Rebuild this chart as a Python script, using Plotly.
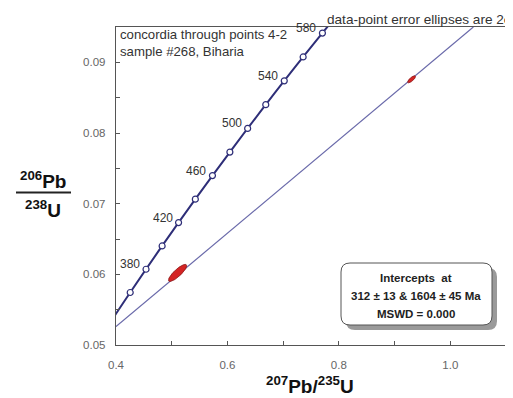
import numpy as np
import plotly.graph_objects as go

# ---- data ----
conc_ages = [360, 380, 400, 420, 440, 460, 480, 500, 520, 540, 560, 580]
conc_x = [0.4255, 0.4539, 0.4828, 0.5123, 0.5424, 0.5731, 0.6044, 0.6363, 0.6688, 0.7020, 0.7359, 0.7705]
conc_y = [0.05743, 0.06072, 0.06402, 0.06732, 0.07064, 0.07397, 0.07730, 0.08065, 0.08401, 0.08738, 0.09076, 0.09414]
conc_line_x = [0.3978, 0.4255, 0.4828, 0.5424, 0.6044, 0.6688, 0.7359, 0.7879]
conc_line_y = [0.05416, 0.05743, 0.06402, 0.07064, 0.07730, 0.08401, 0.09076, 0.09584]
label_ages = [380, 420, 460, 500, 540, 580]

disc_x = [0.40, 1.0414]
disc_y = [0.0526, 0.0950]

ell_cx = [0.5105, 0.9305]
ell_cy = [0.0602, 0.0876]
ell_sx = [0.0164, 0.0071]
ell_sy = [0.00121, 0.00050]
ell_rho = [0.84, 0.77]

x_ticks = [0.4, 0.6, 0.8, 1.0]
x_ticklabels = ["0.4", "0.6", "0.8", "1.0"]
y_ticks = [0.05, 0.06, 0.07, 0.08, 0.09]
y_ticklabels = ["0.05", "0.06", "0.07", "0.08", "0.09"]

box_lines = ["Intercepts  at", "312 ± 13 & 1604 ± 45 Ma", "MSWD = 0.000"]
title_lines = ["concordia through points 4-2", "sample #268, Biharia"]
note_text = "data-point error ellipses are 2σ"

# ---- geometry helpers ----
# the page body has an 8px margin, so figure pixel = window pixel - 8
OFF = 8
W, H = 513 - OFF, 398 - OFF
L, R, T, B = 116 - OFF, 506 - OFF, 27 - OFF, 345 - OFF
def px(x):
    return (x - OFF - L) / (R - L)
def py(y):
    return (B - (y - OFF)) / (B - T)

FONT = "Liberation Sans, Arial, sans-serif"
NAVY = "#2e2e78"

fig = go.Figure()

# discordia
fig.add_trace(go.Scatter(x=disc_x, y=disc_y, mode="lines",
                         line=dict(color="#6a6aaa", width=1.2), hoverinfo="skip"))

# error ellipses
t = np.linspace(0, 2 * np.pi, 100)
for cx, cy, sx, sy, r in zip(ell_cx, ell_cy, ell_sx, ell_sy, ell_rho):
    ex = cx + sx * np.cos(t)
    ey = cy + sy * (r * np.cos(t) + np.sqrt(1 - r * r) * np.sin(t))
    fig.add_trace(go.Scatter(x=ex, y=ey, mode="lines", fill="toself",
                             fillcolor="#d42424", line=dict(color="#8a1515", width=0.8),
                             hoverinfo="skip"))

# concordia
fig.add_trace(go.Scatter(x=conc_line_x, y=conc_line_y, mode="lines", line_shape="spline",
                         line=dict(color=NAVY, width=2), hoverinfo="skip"))
fig.add_trace(go.Scatter(x=conc_x, y=conc_y, mode="markers",
                         marker=dict(symbol="circle", size=6, color="white",
                                     line=dict(color=NAVY, width=1.2)),
                         cliponaxis=False, hoverinfo="skip"))

annotations = []
for a, xv, yv in zip(conc_ages, conc_x, conc_y):
    if a in label_ages:
        annotations.append(dict(x=xv, y=yv, text=str(a), showarrow=False,
                                xanchor="right", yanchor="middle", xshift=-4, yshift=5,
                                font=dict(family=FONT, size=12, color="#333")))

# titles in plot
for i, s in enumerate(title_lines):
    annotations.append(dict(x=px(118), y=py(34 + 17.5 * i), xref="paper", yref="paper",
                            text=s, showarrow=False, xanchor="left", yanchor="middle",
                            font=dict(family=FONT, size=13.2, color="#333")))
annotations.append(dict(x=px(325), y=py(20), xref="paper", yref="paper", text=note_text,
                        showarrow=False, xanchor="left", yanchor="middle",
                        font=dict(family=FONT, size=13.6, color="#333")))

# box text
for i, s in enumerate(box_lines):
    annotations.append(dict(x=px(416), y=py(277.5 + 18 * i), xref="paper", yref="paper",
                            text="<b>" + s + "</b>", showarrow=False, xanchor="center",
                            yanchor="middle",
                            font=dict(family=FONT, size=11.5, color="#222")))

# axis titles
annotations.append(dict(x=px(43), y=py(180), xref="paper", yref="paper",
                        text="<b><sup>206</sup>Pb</b>", showarrow=False,
                        xanchor="center", yanchor="middle",
                        font=dict(family=FONT, size=19, color="#111")))
annotations.append(dict(x=px(43), y=py(209), xref="paper", yref="paper",
                        text="<b><sup>238</sup>U</b>", showarrow=False,
                        xanchor="center", yanchor="middle",
                        font=dict(family=FONT, size=19, color="#111")))
annotations.append(dict(x=px(310), y=py(385), xref="paper", yref="paper",
                        text="<b><sup>207</sup>Pb/<sup>235</sup>U</b>", showarrow=False,
                        xanchor="center", yanchor="middle",
                        font=dict(family=FONT, size=19, color="#111")))

def rounded_path(x0, y0, x1, y1, r):
    pts = [
        f"M {px(x0 + r)},{py(y0)}",
        f"L {px(x1 - r)},{py(y0)}",
        f"Q {px(x1)},{py(y0)} {px(x1)},{py(y0 + r)}",
        f"L {px(x1)},{py(y1 - r)}",
        f"Q {px(x1)},{py(y1)} {px(x1 - r)},{py(y1)}",
        f"L {px(x0 + r)},{py(y1)}",
        f"Q {px(x0)},{py(y1)} {px(x0)},{py(y1 - r)}",
        f"L {px(x0)},{py(y0 + r)}",
        f"Q {px(x0)},{py(y0)} {px(x0 + r)},{py(y0)}",
        "Z",
    ]
    return " ".join(pts)

shapes = [
    dict(type="path", xref="paper", yref="paper",
         path=rounded_path(346, 268, 497, 330, 9),
         fillcolor="#9a9a9a", line=dict(width=0), layer="above"),
    dict(type="path", xref="paper", yref="paper",
         path=rounded_path(341, 263, 492, 325, 9),
         fillcolor="white", line=dict(color="#555", width=1), layer="above"),
    dict(type="line", xref="paper", yref="paper", x0=px(16), x1=px(71),
         y0=py(192.5), y1=py(192.5), line=dict(color="#222", width=2)),
]

axis_common = dict(showgrid=False, zeroline=False, showline=True, linecolor="#555",
                   linewidth=1.4, mirror=True, ticks="inside", ticklen=4,
                   tickcolor="#555", tickwidth=1.2,
                   tickfont=dict(family=FONT, size=11.5, color="#666"))

fig.update_layout(
    width=W, height=H,
    margin=dict(l=L, r=W - R, t=T, b=H - B, autoexpand=False),
    paper_bgcolor="white", plot_bgcolor="white",
    showlegend=False,
    xaxis=dict(range=[0.4, 1.1], tickvals=x_ticks, ticktext=x_ticklabels,
               minor=dict(ticks="inside", ticklen=4, dtick=0.1, tick0=0.4, tickcolor="#555"),
               ticklabelstandoff=9, **axis_common),
    yaxis=dict(range=[0.05, 0.095], tickvals=y_ticks, ticktext=y_ticklabels,
               minor=dict(ticks="inside", ticklen=4, dtick=0.005, tick0=0.05, tickcolor="#555"),
               ticklabelstandoff=7, **axis_common),
    annotations=annotations,
    shapes=shapes,
)

fig.write_html("out.html")
